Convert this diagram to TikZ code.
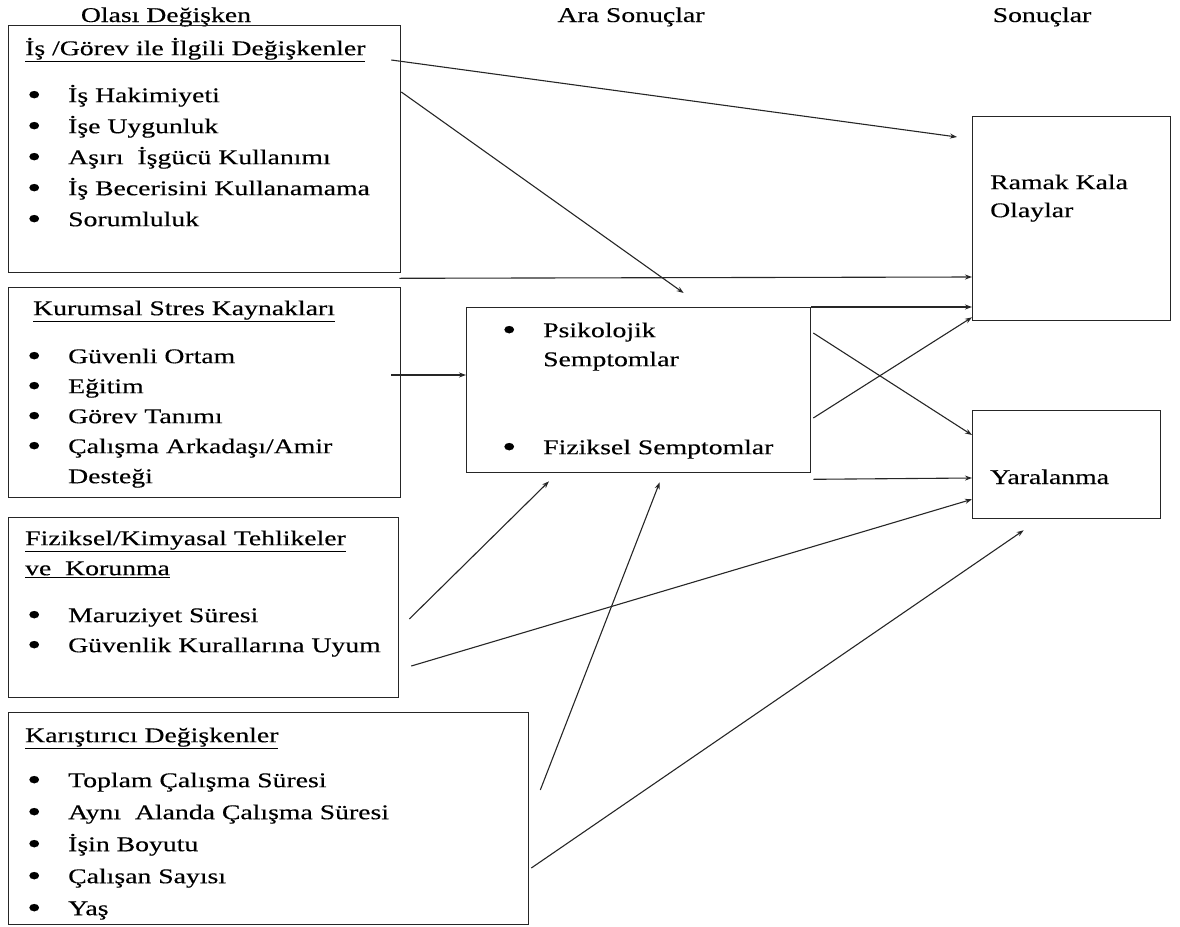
\documentclass[tikz,border=0pt]{standalone}
\usepackage{fontspec}
\usepackage{graphicx}
\setmainfont{Liberation Serif}[FakeStretch=1.32,FakeBold=0.35]
\usepackage{tikz}
\usetikzlibrary{arrows.meta,positioning,calc}
\tikzset{
  kutu/.style={rectangle, draw=black!85, line width=1.3pt, anchor=north west, inner sep=0pt},
  liste/.style={anchor=north west, inner sep=0pt, align=left, font=\fontsize{21}{31}\selectfont},
  kolon/.style={anchor=base, inner sep=0pt, font=\fontsize{21}{31}\selectfont},
  ok/.style={draw=black!85, line width=1.1pt, -{Stealth[length=7pt,width=5pt]}}
}
\newcommand{\baslik}[1]{\rule{0pt}{20pt}\underline{#1}}
\newcommand{\nokta}{\raisebox{-2.5pt}{\scalebox{1.45}{\textbullet}}}
\newcommand{\madde}[1]{\hspace*{2pt}\makebox[41pt][l]{\nokta}#1}
\newcommand{\devam}[1]{\hspace*{43pt}#1}

\begin{document}
\begin{tikzpicture}[x=1pt, y=-1pt]
\useasboundingbox (0,0) rectangle (1180,926);

\node[kolon] (olasi) at (166,22) {Olası Değişken};
\node[kolon] (ara) at (631,22) {Ara Sonuçlar};
\node[kolon] (sonuc) at (1042,22) {Sonuçlar};

\node[kutu, minimum width=392pt, minimum height=247pt] (isgorev) at (8,25) {};
\node[liste] (isgorev-txt) at (25,35) {\baslik{İş /Görev ile İlgili Değişkenler}\\[16pt]
  \madde{İş Hakimiyeti}\\ \madde{İşe Uygunluk}\\ \madde{Aşırı~ İşgücü Kullanımı}\\
  \madde{İş Becerisini Kullanamama}\\ \madde{Sorumluluk}};

\node[kutu, minimum width=392pt, minimum height=210pt] (kurumsal) at (8,287) {};
\node[liste, font=\fontsize{21}{30}\selectfont] (kurumsal-txt) at (25,295) {\hspace*{8pt}\baslik{Kurumsal Stres Kaynakları}\\[18pt]
  \madde{Güvenli Ortam}\\ \madde{Eğitim}\\ \madde{Görev Tanımı}\\
  \madde{Çalışma Arkadaşı/Amir}\\ \devam{Desteği}};

\node[kutu, minimum width=390pt, minimum height=180pt] (fiziksel) at (8,517) {};
\node[liste, font=\fontsize{21}{30}\selectfont] (fiziksel-txt) at (25,525) {\baslik{Fiziksel/Kimyasal Tehlikeler}\\ \underline{ve~~Korunma}\\[17pt]
  \madde{Maruziyet Süresi}\\ \madde{Güvenlik Kurallarına Uyum}};

\node[kutu, minimum width=520pt, minimum height=212pt] (karistirici) at (8,712) {};
\node[liste, font=\fontsize{21}{32}\selectfont] (karistirici-txt) at (25,722) {\baslik{Karıştırıcı Değişkenler}\\[13pt]
  \madde{Toplam Çalışma Süresi}\\ \madde{Aynı~ Alanda Çalışma Süresi}\\ \madde{İşin Boyutu}\\
  \madde{Çalışan Sayısı}\\ \madde{Yaş}};

\node[kutu, minimum width=344pt, minimum height=165pt] (semptom) at (466,307) {};
\node[liste, font=\fontsize{21}{29}\selectfont] (semptom-txt) at (500,317) {\rule{0pt}{20pt}\madde{Psikolojik}\\ \devam{Semptomlar}\\[59pt]
  \madde{Fiziksel Semptomlar}};

\node[kutu, minimum width=198pt, minimum height=204pt] (ramak) at (972,116) {};
\node[liste, font=\fontsize{21}{28}\selectfont] (ramak-txt) at (990,169) {\rule{0pt}{20pt}Ramak Kala\\ Olaylar};

\node[kutu, minimum width=188pt, minimum height=108pt] (yara) at (972,410) {};
\node[liste, anchor=base west] (yara-txt) at (990,484) {Yaralanma};

\draw[ok] ($(isgorev.north east)+(-10,35)$) -- ($(ramak.north west)+(-15,21)$);
\draw[ok] ($(isgorev.north east)+(0,67)$) -- ($(semptom.north)+(45,-14)$);
\draw[ok] ($(isgorev.south east)+(-2,5)$) -- ($(ramak.north west)+(0,161)$);
\draw[ok] (semptom.north east) -- ($(ramak.north west)+(0,191)$);
\draw[ok] ($(semptom.north east)+(2,111)$) -- ($(ramak.south west)+(0,-4)$);
\draw[ok] ($(semptom.north east)+(2,26)$) -- ($(yara.north west)+(0,25)$);
\draw[ok] ($(semptom.south east)+(2,6)$) -- ($(yara.north west)+(0,68)$);
\draw[ok] ($(kurumsal.north east)+(-10,88)$) -- ($(semptom.north west)+(0,68)$);
\draw[ok] ($(fiziksel.north east)+(10,102)$) -- ($(semptom.south west)+(83,8)$);
\draw[ok] ($(fiziksel.north east)+(12,149)$) -- ($(yara.south west)+(0,-20)$);
\draw[ok] ($(karistirici.north east)+(11,78)$) -- ($(semptom.south)+(21,9)$);
\draw[ok] ($(karistirici.north east)+(2,156)$) -- ($(yara.south)+(-43,11)$);

\end{tikzpicture}
\end{document}
